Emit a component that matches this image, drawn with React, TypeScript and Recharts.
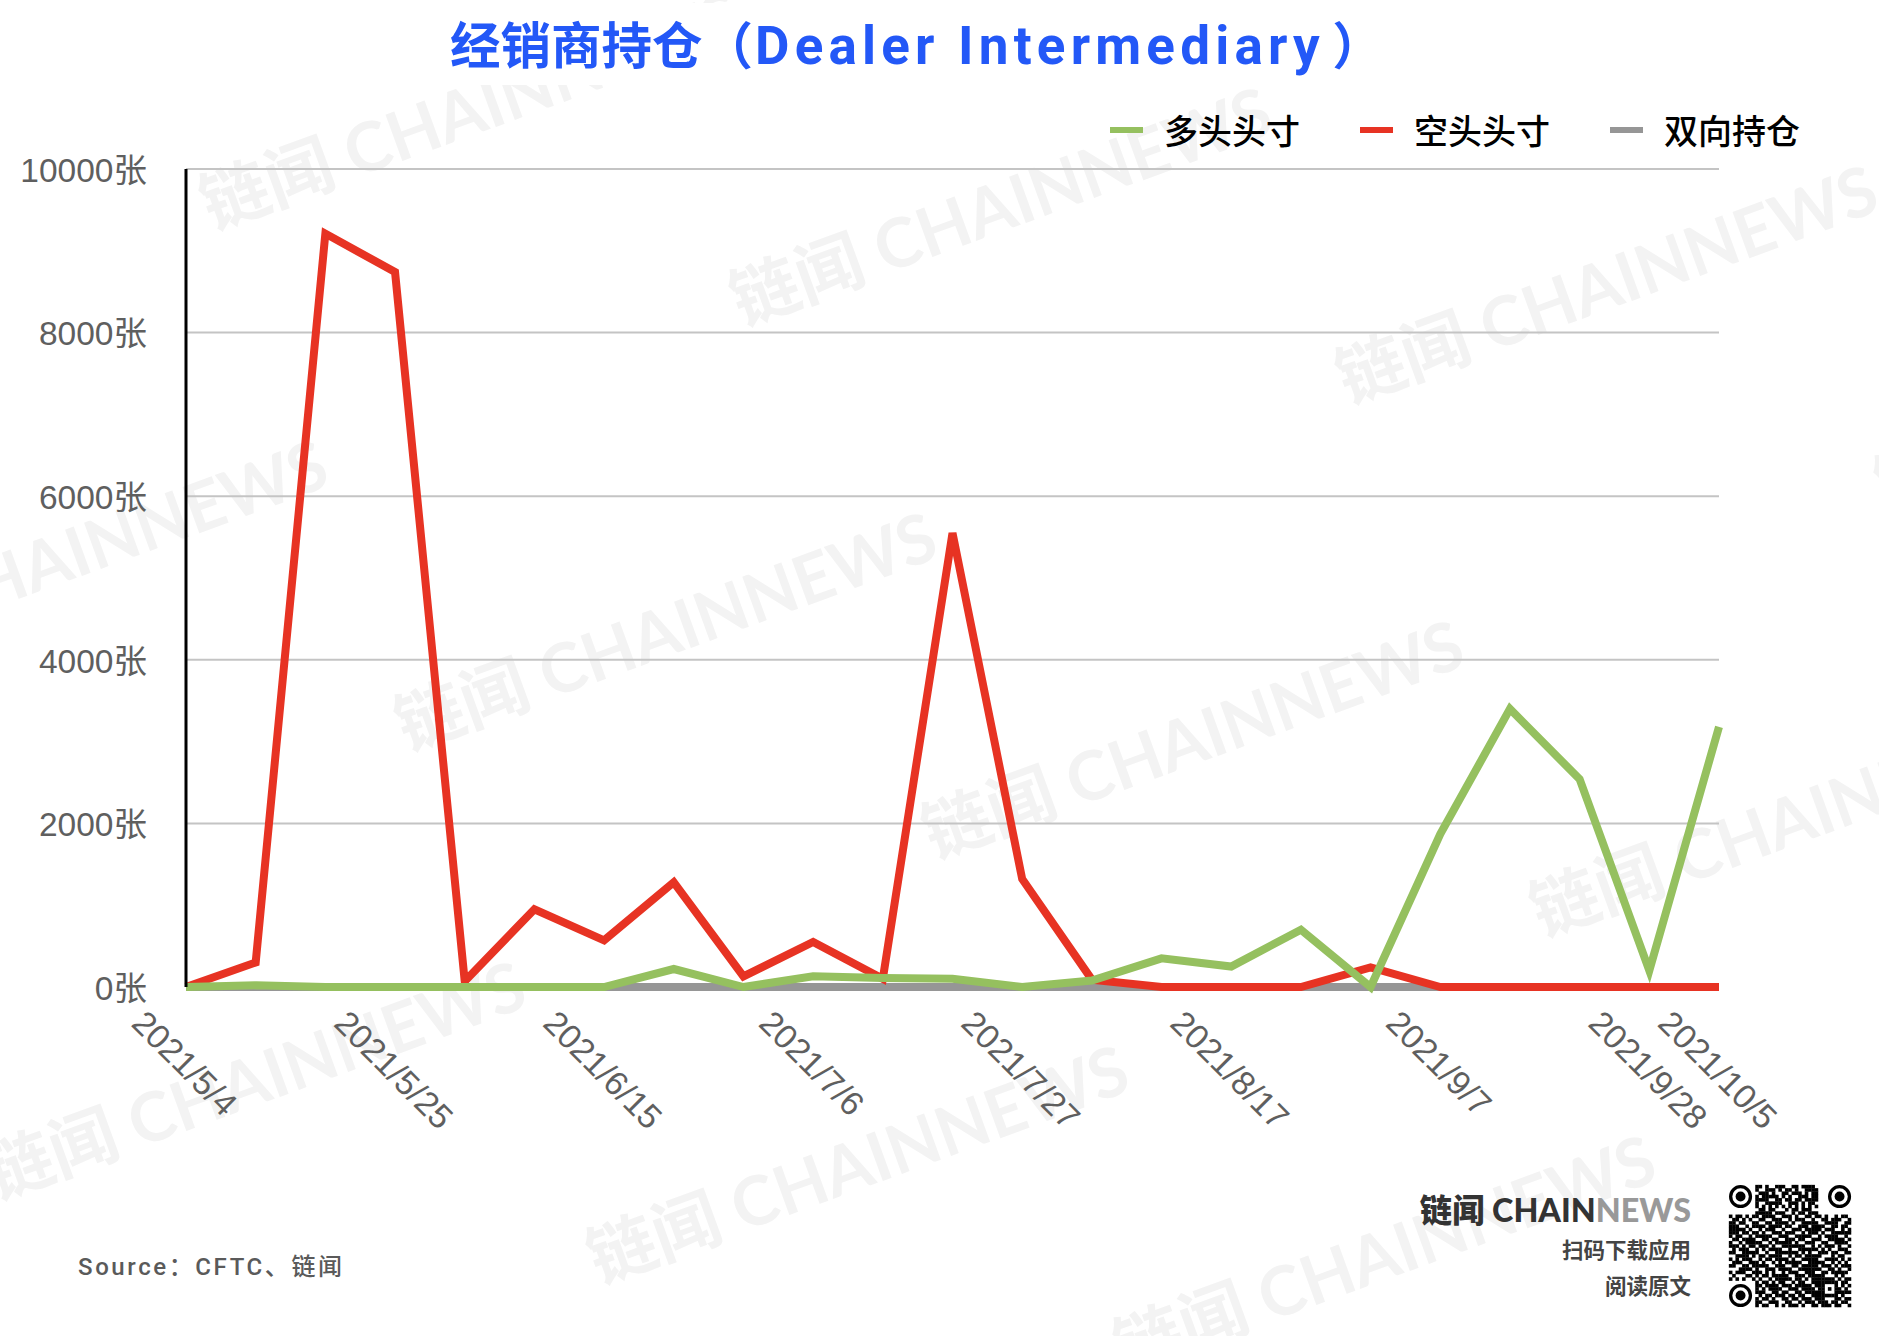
import React from 'react';
import { LineChart, Line, XAxis, YAxis, CartesianGrid, Legend } from 'recharts';

const dates = ['2021/5/4','2021/5/11','2021/5/18','2021/5/25','2021/6/1','2021/6/8','2021/6/15','2021/6/22','2021/6/29','2021/7/6','2021/7/13','2021/7/20','2021/7/27','2021/8/3','2021/8/10','2021/8/17','2021/8/24','2021/8/31','2021/9/7','2021/9/14','2021/9/21','2021/9/28','2021/10/5'];
const longValues = [0,20,0,0,0,0,0,220,0,130,110,100,0,80,350,250,700,0,1870,3400,2540,200,3180];
const shortValues = [0,300,9210,8740,70,950,570,1280,130,550,100,5550,1320,90,0,0,0,240,0,0,0,0,0];
const bothValues = [0,0,0,0,0,0,0,0,0,0,0,0,0,0,0,0,0,0,0,0,0,0,0];
const xTicks = ['2021/5/4','2021/5/25','2021/6/15','2021/7/6','2021/7/27','2021/8/17','2021/9/7','2021/9/28','2021/10/5'];
const yTicks = [0,2000,4000,6000,8000,10000];
const legendOrder = ['多头头寸','空头头寸','双向持仓'];
const chartData = dates.map((date, i) => ({ date, long: longValues[i], short: shortValues[i], both: bothValues[i] }));

const GREEN = '#95C05F';
const RED = '#E73323';
const GRAY = '#969696';

const watermarks: [number, number][] = [[470,108],[1000,204],[1606,282],[56,557],[665,629],[1192,737],[1800,815],[2145,390],[254,1078],[857,1162],[1384,1252]];

const qrRows = [
'0000000011010011100110111100000000000',
'0000000010011101011010011110000000000',
'0000000001110100110111010110000000000',
'0000000010111110101001110110000000000',
'0000000011110011011011011110000000000',
'0000000010011111001110101100000000000',
'0000000010101010101010101010000000000',
'0000000001101100010110111000000000000',
'0000000011111011100101101110000000000',
'1011010110111100111010011011010010110',
'0110101001100111001011100100110111001',
'1101100110011011110100111110011110011',
'1110010111101111011001110111100110110',
'1111101001011100100111011111011100101',
'1110110110100111011100101110100111111',
'1011001011111001110011111001011110010',
'0110111100110110011101100111001111101',
'1001011111001011111010011100110011110',
'1110101101110100111111100101011101001',
'0101110010101111001001111110101001110',
'1100111110010011111110101001110110011',
'0011110101101111001011011111000101100',
'1010111001011011110100111110011110101',
'0111001110100101011111001111100101010',
'1100110111110011100110111110111010111',
'0001111010011101111001111111001101001',
'1011100111010100101110011100110111110',
'0100011010110111110011101111100010100',
'1010100101001011111011010111111101011',
'0000000010110101100101100111111110110',
'0000000011011110111011111011100010101',
'0000000010101111001110111101101011010',
'0000000011100110110011011111100011111',
'0000000001011011101101100111111110100',
'0000000010110100110110111011100011011',
'0000000011001110011001011101110110110',
'0000000010110010101110100110111011001',
];
const QR_X = 1729, QR_Y = 1185, QR_M = 3.3;

const FONT = '"Noto Sans CJK SC", sans-serif';
const AXIS_FONT = '"Liberation Sans", "Noto Sans CJK SC", sans-serif';
const TICK_SIZE = 33.8;
const TICK_TOP = 1008;

function XTick(props: any) {
  const { x, payload } = props;
  const label: string = payload.value;
  const slashes = label.split('/').length - 1;
  const digits = label.length - slashes;
  const textW = TICK_SIZE * (digits * 0.556 + slashes * 0.278);
  const cy = TICK_TOP + ((textW + 24) * 0.7071) / 2;
  const cx = x - 1;
  return (
    <text x={cx} y={cy} transform={`rotate(45 ${cx} ${cy})`} textAnchor="middle" dominantBaseline="central" fontSize={TICK_SIZE} fontFamily={AXIS_FONT} fill="#5f5f5f">
      {label}
    </text>
  );
}

function LegendContent({ payload }: any) {
  const items = [...(payload || [])].sort((a: any, b: any) => legendOrder.indexOf(a.value) - legendOrder.indexOf(b.value));
  return (
    <div style={{ display: 'flex', alignItems: 'center', fontFamily: FONT, fontWeight: 500, fontSize: 34, color: '#000', lineHeight: '40px', whiteSpace: 'nowrap' }}>
      {items.map((it: any, i: number) => (
        <div key={it.value} style={{ display: 'flex', alignItems: 'center', marginLeft: i ? 60 : 0 }}>
          <span style={{ display: 'inline-block', width: 33, height: 6, background: it.color, marginRight: 21 }} />
          <span>{it.value}</span>
        </div>
      ))}
    </div>
  );
}

function Backdrop() {
  return (
    <svg width={1879} height={1336} style={{ position: 'absolute', left: 0, top: 0 }}>
      {watermarks.map(([x, y], i) => (
        <text key={i} x={x} y={y} transform={`rotate(-20 ${x} ${y})`} textAnchor="middle" dominantBaseline="central" fontSize={68} fontWeight={700} fontFamily='Lato, "Noto Sans CJK SC", sans-serif' fill="#f3f3f3">
          链闻 CHAINNEWS
        </text>
      ))}
      <rect x={0} y={3} width={1879} height={82} fill="#fff" />
    </svg>
  );
}

function Overlay() {
  return (
    <svg width={1879} height={1336} style={{ position: 'absolute', left: 0, top: 0, pointerEvents: 'none' }}>
      <text x={450} y={64} fontSize={50.5} fontWeight={700} fontFamily={FONT} fill="#2358F7">
        经销商持仓（
        <tspan dx={2} fontSize={53} letterSpacing={5.2} fontFamily={'Roboto, sans-serif'}>Dealer Intermediary </tspan>
        <tspan dx={-11}>）</tspan>
      </text>
      <text x={78} y={1275} fontSize={24} fontWeight={500} letterSpacing={2.6} fontFamily={'Roboto, "Noto Sans CJK SC", sans-serif'} fill="#5a5a5a">Source：CFTC、链闻</text>
      <text x={1691} y={1222} textAnchor="end" fontSize={32.3} fontWeight={900} fontFamily={'Lato, "Noto Sans CJK SC", sans-serif'} fill="#333">
        链闻 CHAIN<tspan fill="#999">NEWS</tspan>
      </text>
      <text x={1691} y={1258} textAnchor="end" fontSize={21.5} fontWeight={700} fontFamily={FONT} fill="#444">扫码下载应用</text>
      <text x={1691} y={1294} textAnchor="end" fontSize={21.5} fontWeight={700} fontFamily={FONT} fill="#444">阅读原文</text>
      {qrRows.map((row, r) => row.split('').map((c, k) => c === '1' ? (
        <rect key={`${r}-${k}`} x={QR_X + k * QR_M - 0.15} y={QR_Y + r * QR_M - 0.15} width={QR_M + 0.3} height={QR_M + 0.3} fill="#000" />
      ) : null))}
      {[[QR_X + 3.5 * QR_M, QR_Y + 3.5 * QR_M], [QR_X + 33.5 * QR_M, QR_Y + 3.5 * QR_M], [QR_X + 3.5 * QR_M, QR_Y + 33.5 * QR_M]].map(([cx, cy], i) => (
        <g key={i}>
          <circle cx={cx} cy={cy} r={3 * QR_M} fill="none" stroke="#000" strokeWidth={QR_M} />
          <circle cx={cx} cy={cy} r={1.5 * QR_M} fill="#000" />
        </g>
      ))}
    </svg>
  );
}

export default function App() {
  return (
    <div style={{ position: 'absolute', left: 0, top: 0, width: 1879, height: 1336, background: '#fff', overflow: 'hidden' }}>
      <Backdrop />
      <div style={{ position: 'absolute', left: 0, top: 0 }}>
        <LineChart width={1879} height={1336} data={chartData} margin={{ top: 129, right: 160, bottom: 0, left: 0 }}>
          <CartesianGrid vertical={false} horizontal stroke="#c4c4c4" strokeWidth={2} />
          <XAxis dataKey="date" ticks={xTicks} interval={0} axisLine={false} tickLine={false} tick={<XTick />} height={349} />
          <YAxis width={186} domain={[0, 10000]} ticks={yTicks} tickFormatter={(v: number) => `${v}张`} axisLine={{ stroke: '#000', strokeWidth: 3 }} tickLine={false} tickSize={0} tickMargin={39} tick={{ fontSize: 33.5, fontFamily: AXIS_FONT, fill: '#5f5f5f', dy: 1 }} />
          <Legend verticalAlign="top" align="right" content={<LegendContent />} wrapperStyle={{ position: 'absolute', left: 1110, top: 110, width: 720, height: 40 }} />
          <Line type="linear" name="双向持仓" dataKey="both" stroke={GRAY} strokeWidth={8} dot={false} isAnimationActive={false} strokeLinejoin="miter" />
          <Line type="linear" name="空头头寸" dataKey="short" stroke={RED} strokeWidth={8} dot={false} isAnimationActive={false} strokeLinejoin="miter" />
          <Line type="linear" name="多头头寸" dataKey="long" stroke={GREEN} strokeWidth={8} dot={false} isAnimationActive={false} strokeLinejoin="miter" />
        </LineChart>
      </div>
      <Overlay />
    </div>
  );
}
